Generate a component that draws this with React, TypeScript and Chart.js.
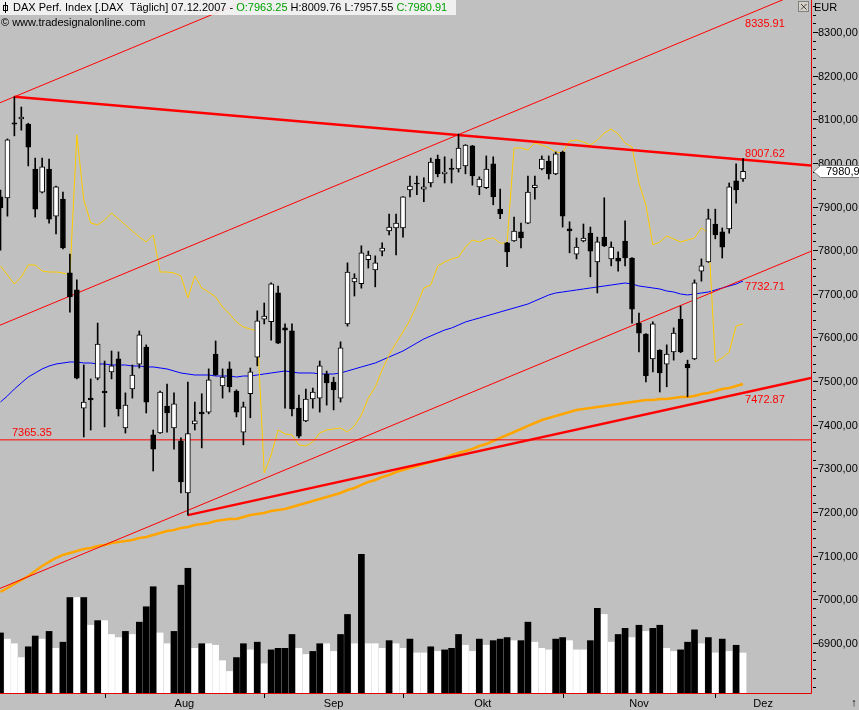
import React, { useEffect, useRef } from 'react';
import { Chart, registerables } from 'chart.js';
Chart.register(...registerables);

// ---- OHLC (daily DAX, index 0 = first visible bar, 107 = 07.12.2007) ----
const opens = [7922,7920,8092,8101,8089,7986,7933,7986,7878,7917,
7748,7709,7438,7461,7507,7477,7521,7551,7393,7482,
7539,7578,7377,7381,7443,7393,7363,7244,7402,7429,
7429,7562,7489,7528,7477,7383,7471,7555,7642,7636,
7702,7622,7615,7438,7409,7459,7461,7516,7498,7461,
7631,7727,7723,7778,7755,7798,7844,7851,7851,7938,
7954,7940,7954,8009,7975,7988,7986,7993,8039,7945,
7943,7998,7894,7817,7821,7842,7862,7943,7986,8004,
7975,8025,7849,7791,7821,7839,7773,7830,7780,7782,
7821,7782,7633,7608,7551,7571,7539,7567,7642,7539,
7551,7752,7773,7860,7842,7849,7959,7963.25];
const highs = [7938,8055,8151.57,8128,8091,8011,8011,8009,7947,7933,
7791,7732,7537,7505,7633,7546,7569,7567,7473,7537,
7615,7583,7388,7477,7493,7473,7370,7498,7452,7471,
7528,7592,7528,7544,7480,7452,7530,7661,7679,7725,
7718,7631,7631,7468,7482,7484,7546,7523,7509,7590,
7771,7746,7810,7798,7787,7817,7883,7883,7923,7970,
7970,7966,8011,8018,8014,8009,8066,8042,8040,7968,
8016,8014,7940,7818,7876,7862,7970,7970,8016,8016,
8025,8027,7865,7828,7860,7853,7830,7920,7819,7796,
7867,7783,7656,7609,7636,7572,7583,7622,7672,7548,
7732,7780,7894,7894,7851,7954,7998,8009.76];
const lows = [7800,7878,8062,8075,7993,7876,7931,7862,7837,7803,
7658,7505,7372,7388,7503,7395,7505,7420,7381,7461,
7530,7427,7294,7380,7383,7344,7244,7192.86,7388,7347,
7425,7513,7461,7475,7418,7354,7416,7535,7631,7594,
7586,7438,7420,7370,7407,7438,7429,7445,7434,7452,
7626,7695,7713,7759,7716,7787,7835,7789,7830,7922,
7927,7911,7945,7968,7954,7954,7979,7975,7949,7927,
7941,7904,7872,7762,7820,7805,7861,7917,7984,7963,
7973,7853,7794,7780,7819,7739,7702,7808,7764,7752,
7764,7633,7567,7498,7521,7475,7487,7548,7565,7464,
7549,7729,7772,7826,7782,7839,7908,7957.55];
const closes = [7897,8053,8089,8105,8036,7894,7991,7871,7945,7805,
7693,7507,7452,7457,7585,7473,7535,7436,7445,7514,
7606,7452,7344,7475,7427,7448,7269,7380,7409,7425,
7503,7514,7509,7487,7429,7441,7521,7638,7649,7723,
7587,7617,7436,7374,7459,7475,7535,7496,7480,7576,
7750,7736,7794,7789,7771,7805,7853,7862,7922,7947,
7952,7945,8002,7975,7979,7985,8034,8041,7970,7963,
7986,7922,7883,7796,7844,7828,7933,7949,8009,7975,
8021,7878,7844,7807,7828,7798,7819,7810,7807,7775,
7782,7665,7610,7512,7631,7519,7562,7610,7567,7530,
7725,7764,7872,7835,7807,7945,7938,7980.91];

// ---- volume (millions) and bar colour (true = white) ----
const volumes = [39,35,32,23,30,37,35,40,29,33,
62,62,62,44,47,47,38,36,40,38,
46,56,69,39,32,40,70,81,29,32,
32,31,21,14,23,32,28,33,19,28,
29,29,38,29,25,27,32,32,27,38,
51,32,90,32,32,29,34,32,29,35,
26,26,30,27,28,29,38,31,27,35,
31,34,35,36,34,34,46,33,29,28,
35,36,34,28,28,34,55,51,33,38,
42,36,44,40,42,44,29,27,28,33,
41,32,36,26,35,27,31,26];
const volumeUp = [0,1,1,1,0,0,1,0,1,0,
0,1,0,1,0,1,1,1,0,1,
0,0,0,1,1,0,0,0,1,0,
1,1,1,1,0,0,1,0,1,0,
0,0,0,1,1,0,0,1,1,0,
0,1,0,1,1,1,0,1,1,0,
1,1,0,1,0,0,0,1,1,0,
1,0,0,0,1,0,0,1,1,1,
0,0,1,1,1,0,0,1,1,0,
0,1,0,1,0,0,1,1,0,0,
0,1,0,1,0,1,0,1];

// ---- overlay indicator lines ----
const yellowLine = [7763.8,7743.2,7722.5,7738.6,7766.1,7766.1,7752.3,7750.0,7750.0,7747.8,
7743.2,8064.0,7915.0,7862.3,7857.8,7869.2,7885.2,7871.5,7857.8,7844.0,
7830.3,7818.8,7834.8,7750.0,7750.0,7747.8,7740.9,7690.5,7740.9,7713.4,
7704.2,7692.8,7669.8,7653.8,7635.5,7624.0,7619.4,7614.8,7289.5,7330.7,
7388.0,7378.8,7376.5,7353.6,7351.3,7360.5,7381.1,7388.0,7390.3,7392.6,
7383.4,7397.2,7422.4,7461.3,7486.5,7525.5,7559.9,7587.4,7612.6,7640.1,
7674.4,7713.4,7720.3,7763.8,7773.0,7779.8,7784.4,7807.3,7823.4,7818.8,
7825.7,7828.0,7816.5,7816.5,8034.2,8034.2,8029.6,8045.7,8041.1,8034.2,
8025.0,8022.7,8050.2,8052.5,8047.9,8041.1,8052.5,8068.6,8077.7,8066.3,
8045.7,8036.5,7954.0,7903.6,7811.9,7818.8,7832.6,7825.7,7818.8,7823.4,
7828.0,7850.9,7839.4,7543.8,7553.0,7566.7,7626.3,7630.9];
const ma50 = [7452.2,7466.0,7481.9,7495.7,7509.4,7518.6,7527.8,7534.6,7539.2,7541.5,
7543.8,7543.8,7541.5,7541.5,7539.2,7539.2,7536.9,7536.9,7536.9,7534.6,
7534.6,7532.4,7532.4,7530.1,7527.8,7523.2,7518.6,7516.3,7514.0,7514.0,
7514.0,7511.7,7511.7,7511.7,7509.4,7511.7,7511.7,7514.0,7516.3,7518.6,
7520.9,7523.2,7520.9,7518.6,7518.6,7518.6,7516.3,7516.3,7516.3,7518.6,
7523.2,7527.8,7532.4,7536.9,7541.5,7548.4,7555.3,7562.1,7569.0,7578.2,
7587.4,7596.5,7603.4,7610.3,7617.1,7621.7,7628.6,7635.5,7640.1,7644.6,
7649.2,7653.8,7658.4,7663.0,7667.5,7672.1,7676.7,7683.6,7690.5,7697.4,
7701.9,7704.2,7706.5,7708.8,7711.1,7713.4,7715.7,7717.9,7720.2,7722.5,
7724.8,7722.5,7717.9,7715.7,7713.4,7711.1,7706.5,7704.2,7699.6,7697.4,
7699.6,7701.9,7704.2,7708.8,7713.4,7717.9,7722.5,7729.4];
const ma200 = [7016.8,7025.9,7035.1,7044.3,7053.5,7064.9,7076.4,7085.6,7094.7,7101.6,
7106.2,7110.8,7115.3,7117.6,7122.2,7124.5,7129.1,7131.4,7133.7,7136.0,
7140.5,7142.8,7147.4,7152.0,7156.6,7158.9,7163.4,7165.7,7170.3,7172.6,
7174.9,7179.5,7181.8,7184.0,7184.0,7188.6,7193.2,7195.5,7197.8,7202.4,
7204.7,7207.0,7211.5,7216.1,7220.7,7225.3,7229.9,7234.5,7239.0,7243.6,
7250.5,7255.1,7262.0,7268.8,7273.4,7280.3,7284.9,7291.7,7296.3,7300.9,
7305.5,7310.1,7314.7,7319.2,7323.8,7330.7,7335.3,7339.9,7344.4,7351.3,
7355.9,7362.8,7369.7,7376.5,7383.4,7390.3,7397.2,7404.0,7410.9,7415.5,
7420.1,7424.6,7429.2,7433.8,7436.1,7438.4,7440.7,7443.0,7445.3,7447.6,
7449.9,7452.2,7454.4,7456.7,7456.7,7459.0,7459.0,7461.3,7463.6,7463.6,
7465.9,7470.5,7472.8,7477.4,7481.9,7484.2,7488.8,7493.4];

// ---- trend lines: two anchor points [barIndex, value] each ----
const downTrend = [[2, 8151.57], [107, 8007.62]];
const upTrend = [[27, 7192.86], [107, 7472.87]];
const channelTop = [[2, 8151.57], [107, 8845.66]];
const channelMid = [[0, 7628.6], [107, 8335.91]];
const channelLow = [[0, 7025.4], [107, 7732.71]];
const levelValue = 7365.35;

// ---- axes ----
const monthStarts = [15, 38, 58, 81, 103];
const monthLabels = ['Aug', 'Sep', 'Okt', 'Nov', 'Dez'];
const yLabelTicks = [6900, 7000, 7100, 7200, 7300, 7400, 7500, 7600, 7700, 7800, 7900, 8000, 8100, 8200, 8300];
const X_MIN = -0.072;
const X_MAX = 116.79;
const Y_MIN = 6785.3;
const Y_MAX = 8373.3;
const VOL_MAX = 450;

const FONT = '11px "Liberation Sans", Arial, sans-serif';
const RED = '#ff0000';

function extendLine(p: number[][], xFrom: number, xTo: number) {
  const [[x1, y1], [x2, y2]] = p;
  const k = (y2 - y1) / (x2 - x1);
  return [
    { x: xFrom, y: y1 + k * (xFrom - x1) },
    { x: xTo, y: y1 + k * (xTo - x1) },
  ];
}

const fmt = (v: number) => v.toFixed(2).replace('.', ',');

const overlayPlugin = {
  id: 'overlay',
  beforeDraw(chart: any) {
    const ctx = chart.ctx;
    ctx.save();
    ctx.fillStyle = '#c0c0c0';
    ctx.fillRect(0, 0, chart.width, chart.height);
    ctx.restore();
  },
  afterDraw(chart: any) {
    const ctx = chart.ctx;
    const xs = chart.scales.x;
    const ys = chart.scales.y;
    const area = chart.chartArea;
    const last = closes.length - 1;
    ctx.save();

    // axis lines
    ctx.strokeStyle = '#e00000';
    ctx.lineWidth = 1;
    ctx.beginPath();
    ctx.moveTo(area.right + 0.5, 0);
    ctx.lineTo(area.right + 0.5, area.bottom + 0.5);
    ctx.moveTo(0, area.bottom + 0.5);
    ctx.lineTo(area.right + 0.5, area.bottom + 0.5);
    ctx.stroke();

    // y ticks
    ctx.strokeStyle = '#000';
    ctx.fillStyle = '#000';
    ctx.font = FONT;
    ctx.textBaseline = 'middle';
    ctx.textAlign = 'left';
    for (let v = 6800; v <= 8360; v += 20) {
      const y = Math.round(ys.getPixelForValue(v)) + 0.5;
      if (y < 2 || y > area.bottom) continue;
      ctx.beginPath();
      if (yLabelTicks.includes(v)) {
        ctx.moveTo(area.right + 2, y);
        ctx.lineTo(area.right + 7, y);
      } else {
        ctx.moveTo(area.right + 2, y);
        ctx.lineTo(area.right + 5, y);
      }
      ctx.stroke();
    }
    yLabelTicks.forEach((v) => {
      const y = Math.round(ys.getPixelForValue(v));
      ctx.fillText(fmt(v), area.right + 7, y + 1);
    });

    // current price box
    const yc = Math.round(ys.getPixelForValue(closes[last]));
    ctx.beginPath();
    ctx.moveTo(area.right + 2.5, yc + 0.5);
    ctx.lineTo(area.right + 9.5, yc - 5.5);
    ctx.lineTo(chart.width + 1, yc - 5.5);
    ctx.lineTo(chart.width + 1, yc + 6.5);
    ctx.lineTo(area.right + 9.5, yc + 6.5);
    ctx.closePath();
    ctx.fillStyle = '#ffffff';
    ctx.fill();
    ctx.strokeStyle = '#808080';
    ctx.stroke();
    ctx.fillStyle = '#000';
    ctx.fillText(fmt(closes[last]), area.right + 15, yc + 1);

    // x ticks + month labels
    ctx.strokeStyle = '#000';
    ctx.beginPath();
    monthStarts.forEach((m) => {
      const x = Math.round(xs.getPixelForValue(m)) + 0.5;
      ctx.moveTo(x, area.bottom + 1);
      ctx.lineTo(x, area.bottom + 5);
    });
    ctx.stroke();
    ctx.textAlign = 'center';
    monthLabels.forEach((lab, k) => {
      const a = monthStarts[k];
      const b = k + 1 < monthStarts.length ? monthStarts[k + 1] : X_MAX;
      const x = xs.getPixelForValue((a + b) / 2);
      ctx.fillText(lab, x, area.bottom + 11);
    });
    ctx.fillText('\u2191', chart.width - 5, area.bottom + 10);

    // red value labels at last bar
    ctx.fillStyle = RED;
    ctx.textAlign = 'left';
    const lx = xs.getPixelForValue(last) + 2;
    const lineLabels = [
      { v: channelMid[1][1], dy: 8 },
      { v: downTrend[1][1], dy: -6 },
      { v: channelLow[1][1], dy: 7 },
      { v: upTrend[1][1], dy: 7 },
    ];
    lineLabels.forEach((l) => {
      ctx.fillText(l.v.toFixed(2), lx, ys.getPixelForValue(l.v) + l.dy);
    });
    ctx.fillText(levelValue.toFixed(2), 12, ys.getPixelForValue(levelValue) - 7);

    // header
    ctx.fillStyle = 'rgba(246,246,246,0.88)';
    ctx.fillRect(0, 0, 456, 15);
    ctx.strokeStyle = '#000';
    ctx.beginPath();
    ctx.moveTo(5.5, 2);
    ctx.lineTo(5.5, 13);
    ctx.stroke();
    ctx.strokeRect(3.5, 5.5, 4, 5);
    const segs: [string, string][] = [
      ['DAX Perf. Index [.DAX  T\u00e4glich] 07.12.2007 - ', '#000'],
      ['O:' + opens[last].toFixed(2), '#00a000'],
      [' H:' + highs[last].toFixed(2) + ' L:' + lows[last].toFixed(2) + ' ', '#000'],
      ['C:' + closes[last].toFixed(2), '#00a000'],
    ];
    let tx = 13;
    ctx.textBaseline = 'middle';
    segs.forEach(([t, c]) => {
      ctx.fillStyle = c;
      ctx.fillText(t, tx, 8);
      tx += ctx.measureText(t).width;
    });
    ctx.fillStyle = '#000';
    ctx.fillText('\u00a9 www.tradesignalonline.com', 1, 23);

    // close box and currency
    ctx.fillStyle = '#d4d0c8';
    ctx.fillRect(798, 1, 11, 11);
    ctx.strokeStyle = '#808080';
    ctx.strokeRect(798.5, 1.5, 10, 10);
    ctx.strokeStyle = '#404040';
    ctx.beginPath();
    ctx.moveTo(801, 4);
    ctx.lineTo(806.5, 9.5);
    ctx.moveTo(806.5, 4);
    ctx.lineTo(801, 9.5);
    ctx.stroke();
    ctx.fillStyle = '#000';
    ctx.fillText('EUR', area.right + 3, 8);

    ctx.restore();
  },
};

export default function App() {
  const ref = useRef<HTMLCanvasElement>(null);
  useEffect(() => {
    document.body.style.margin = '0';
    const idx = closes.map((_, i) => i);
    const line = (data: any[], color: string, width: number, order: number) => ({
      type: 'line' as const,
      data,
      borderColor: color,
      borderWidth: width,
      pointRadius: 0,
      tension: 0,
      fill: false,
      order,
      yAxisID: 'y',
    });
    const chart = new Chart(ref.current as HTMLCanvasElement, {
      type: 'line',
      data: {
        datasets: [
          {
            type: 'bar',
            label: 'Body',
            data: idx.map((i) => ({ x: i, y: [opens[i], closes[i]] })) as any,
            backgroundColor: idx.map((i) => (closes[i] >= opens[i] ? '#ffffff' : '#000000')),
            borderColor: '#000000',
            borderWidth: 1,
            borderSkipped: false,
            barThickness: 5,
            grouped: false,
            order: 0,
            yAxisID: 'y',
          } as any,
          {
            type: 'bar',
            label: 'Wick',
            data: idx.map((i) => ({ x: i, y: [lows[i], highs[i]] })) as any,
            backgroundColor: '#000000',
            borderWidth: 0,
            barThickness: 1,
            grouped: false,
            order: 1,
            yAxisID: 'y',
          } as any,
          line(extendLine(downTrend, downTrend[0][0], X_MAX), RED, 2.5, 2),
          line(extendLine(upTrend, upTrend[0][0], X_MAX), RED, 2.5, 2),
          line(extendLine(channelTop, X_MIN, X_MAX), RED, 1, 3),
          line(extendLine(channelMid, X_MIN, X_MAX), RED, 1, 3),
          line(extendLine(channelLow, X_MIN, X_MAX), RED, 1, 3),
          line([{ x: X_MIN, y: levelValue }, { x: X_MAX, y: levelValue }], RED, 1, 3),
          line(idx.map((i) => ({ x: i, y: yellowLine[i] })), '#ffcc00', 1, 4),
          line(idx.map((i) => ({ x: i, y: ma50[i] })), '#0000ff', 1, 4),
          line(idx.map((i) => ({ x: i, y: ma200[i] })), '#ffa500', 2.5, 4),
          {
            type: 'bar',
            label: 'Volume',
            data: idx.map((i) => ({ x: i, y: volumes[i] })) as any,
            backgroundColor: idx.map((i) => (volumeUp[i] ? '#ffffff' : '#000000')),
            borderWidth: 0,
            barThickness: 6,
            grouped: false,
            order: 10,
            yAxisID: 'yVol',
          } as any,
        ] as any,
      },
      options: {
        responsive: false,
        animation: false,
        devicePixelRatio: 1,
        events: [],
        layout: { padding: { left: 0, top: 0, right: 48, bottom: 17 } },
        plugins: { legend: { display: false }, tooltip: { enabled: false }, title: { display: false } },
        scales: {
          x: { type: 'linear', min: X_MIN, max: X_MAX, display: false, offset: false },
          y: { type: 'linear', min: Y_MIN, max: Y_MAX, display: false },
          yVol: { type: 'linear', min: 0, max: VOL_MAX, display: false },
        },
      } as any,
      plugins: [overlayPlugin],
    });
    return () => chart.destroy();
  }, []);
  return <canvas ref={ref} width={859} height={710} style={{ display: 'block', width: 859, height: 710 }} />;
}
